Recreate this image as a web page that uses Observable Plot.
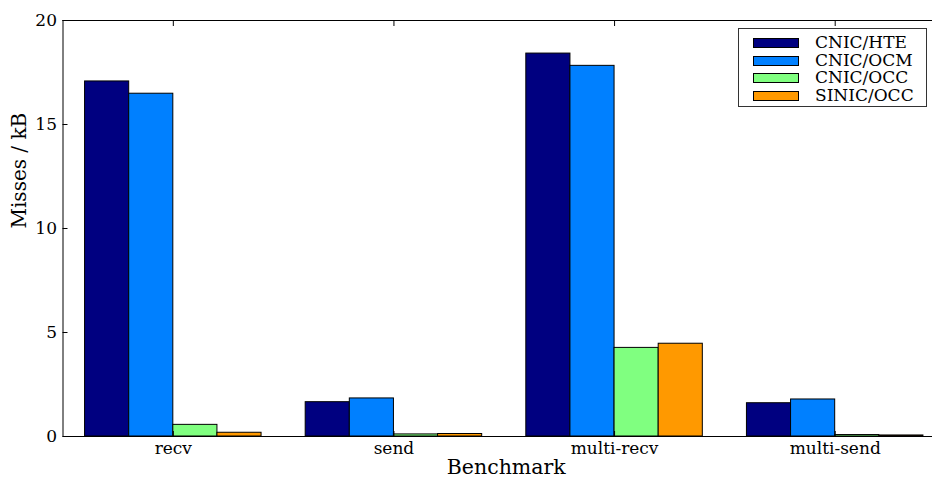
<!DOCTYPE html>
<html>
<head>
<meta charset="utf-8">
<script src="https://cdn.jsdelivr.net/npm/d3@7"></script>
<script src="https://cdn.jsdelivr.net/npm/@observablehq/plot@0.6"></script>
<style>
  html, body { margin: 0; padding: 0; background: #fff; }
  #wrap { position: relative; width: 932px; height: 477px; overflow: hidden; }
  #wrap svg { overflow: hidden; }
  .legend { position: absolute; left: 738px; top: 28px; width: 187px; height: 77px;
    border: 1px solid #333; background: #fff; font-family: "DejaVu Serif", serif; font-size: 17px; color: #000; }
  .legend .row { position: absolute; left: 0; height: 17.5px; width: 100%; }
  .legend .sw { position: absolute; left: 14px; top: 4px; width: 44px; height: 8px; border: 1px solid #000; }
  .legend .lb { position: absolute; left: 76px; top: 1px; line-height: 15px; height: 15px; white-space: nowrap; }
</style>
</head>
<body>
<div id="wrap"></div>
<script>
const benchmarks = ["recv", "send", "multi-recv", "multi-send"];
const series = ["CNIC/HTE", "CNIC/OCM", "CNIC/OCC", "SINIC/OCC"];
const colors = ["#000080", "#0080ff", "#80ff80", "#ff9900"];
const hte   = [17.07, 1.65, 18.41, 1.60];
const ocm   = [16.48, 1.83, 17.82, 1.78];
const occ   = [0.56, 0.10, 4.26, 0.07];
const sinic = [0.18, 0.12, 4.46, 0.05];
const yTicks = [0, 5, 10, 15, 20];

const values = [hte, ocm, occ, sinic];
const barWidth = 0.2, groupOffset = 0.1;
const data = [];
benchmarks.forEach((b, i) => {
  series.forEach((s, j) => {
    const x1 = i + groupOffset + j * barWidth;
    data.push({benchmark: b, series: s, x1, x2: x1 + barWidth, value: values[j][i]});
  });
});
const centers = benchmarks.map((b, i) => i + 0.5);

const font = "DejaVu Serif";
const chart = Plot.plot({
  width: 932,
  height: 477,
  marginLeft: 62.5,
  marginRight: -13,
  marginTop: 20,
  marginBottom: 41,
  style: { fontFamily: font, fontSize: "17px", color: "#000", background: "#fff" },
  x: { type: "linear", domain: [0, 4], axis: null },
  y: { domain: [0, 20], axis: null },
  color: { domain: series, range: colors },
  marks: [
    Plot.rectY(data, { x1: "x1", x2: "x2", y: "value", fill: "series", stroke: "#000", strokeWidth: 1 }),
    Plot.ruleX([0, 4], { stroke: "#000", strokeWidth: 1 }),
    Plot.ruleY([0, 20], { stroke: "#000", strokeWidth: 1 }),
    // y ticks (inward) and labels
    Plot.axisY(yTicks, { anchor: "left", tickSize: -5, tickFormat: () => "", label: null, stroke: "#000" }),
    Plot.axisY(yTicks, { anchor: "left", tickSize: 0, tickPadding: 6, tickFormat: d => String(d), label: null, fill: "#000", fontSize: 17 }),
    // x ticks top (inward) and bottom
    Plot.axisX(centers, { anchor: "top", tickSize: -5, tickFormat: () => "", label: null, stroke: "#000" }),
    Plot.axisX(centers, { anchor: "bottom", tickSize: -5, tickFormat: () => "", label: null, stroke: "#000" }),
    Plot.axisX(centers, { anchor: "bottom", tickSize: 0, tickPadding: 5, tickFormat: (d) => benchmarks[Math.round(d - 0.5)], label: null, fill: "#000", fontSize: 17 }),
    // axis titles
    Plot.text(["Benchmark"], { frameAnchor: "bottom", dx: 2, dy: 37, lineAnchor: "bottom", fontSize: 20.5, fill: "#000" }),
    Plot.text(["Misses / kB"], { frameAnchor: "left", dx: -43, rotate: -90, fontSize: 20, fill: "#000" })
  ]
});

const wrap = document.getElementById("wrap");
wrap.appendChild(chart);

const legend = document.createElement("div");
legend.className = "legend";
series.forEach((s, j) => {
  const row = document.createElement("div");
  row.className = "row";
  row.style.top = (5 + j * 17.5) + "px";
  const sw = document.createElement("div");
  sw.className = "sw";
  sw.style.background = colors[j];
  const lb = document.createElement("div");
  lb.className = "lb";
  lb.textContent = s;
  row.appendChild(sw);
  row.appendChild(lb);
  legend.appendChild(row);
});
wrap.appendChild(legend);
</script>
</body>
</html>
